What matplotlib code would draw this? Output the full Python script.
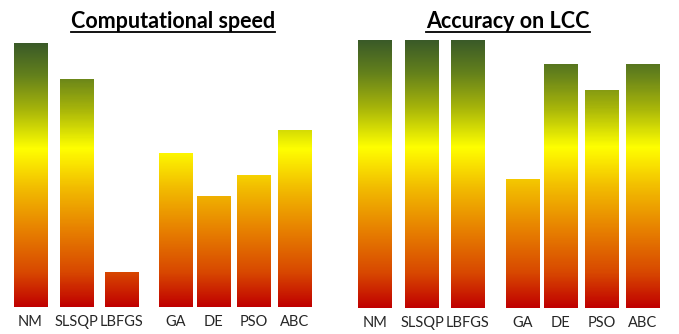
import matplotlib
matplotlib.use("Agg")
import matplotlib.pyplot as plt
import numpy as np
from matplotlib.colors import LinearSegmentedColormap
from matplotlib.lines import Line2D

methods = ["NM", "SLSQP", "LBFGS", "GA", "DE", "PSO", "ABC"]
speed = [100, 86, 13, 58, 42, 50, 67]
accuracy = [100, 100, 100, 48, 91, 81, 91]
titles = ["Computational speed", "Accuracy on LCC"]

# red -> orange -> yellow -> dark green, bottom to top
heat = LinearSegmentedColormap.from_list("heat", [
    (0.00, "#c00000"),
    (0.13, "#d84800"),
    (0.30, "#e88400"),
    (0.45, "#f2bc00"),
    (0.60, "#ffff00"),
    (0.75, "#a6b40a"),
    (0.88, "#63801c"),
    (1.00, "#3a5a28"),
])

W, H = 679, 334
fig = plt.figure(figsize=(W / 100, H / 100), dpi=100)
fig.patch.set_facecolor("white")

# gap left between the gradient methods and the population methods
pos = np.array([0, 1.02, 2.0, 3.2, 4.02, 4.9, 5.8])
bar_w = 0.73

# pixel layout of each panel: first-bar centre, px per slot, baseline, px for value 100
panels = [
    dict(vals=speed, x0=30.5, unit=45.5, base=307, full=264, title_x=173),
    dict(vals=accuracy, x0=375, unit=46.2, base=308, full=268, title_x=508),
]

for p, title in zip(panels, titles):
    left = p["x0"] - 0.5 * p["unit"]
    width = 6.8 * p["unit"]
    ax = fig.add_axes([left / W, (H - p["base"]) / H, width / W, p["full"] / H])
    ax.set_xlim(-0.5, 6.3)
    ax.set_ylim(0, 100)
    for x, v in zip(pos, p["vals"]):
        grad = heat(np.linspace(0, v / 100, 256))[::-1, None, :]
        ax.imshow(grad, extent=(x - bar_w / 2, x + bar_w / 2, 0, v),
                  aspect="auto", interpolation="bilinear", zorder=2)
    ax.set_xticks(pos, methods)
    ax.set_yticks([])
    ax.tick_params(axis="x", length=0, pad=5.5, labelsize=10.5, labelcolor="#262626")
    for lab in ax.get_xticklabels():
        lab.set_fontfamily("Lato")
    for s in ax.spines.values():
        s.set_visible(False)
    ax.patch.set_alpha(0)

    t = fig.text(p["title_x"] / W, 1 - 21 / H, title, ha="center", va="center",
                 fontsize=15.5, fontweight="bold", family="Lato", color="black")
    p["text"] = t

# underline the titles
fig.canvas.draw()
r = fig.canvas.get_renderer()
for p in panels:
    bb = p["text"].get_window_extent(r)
    y = 1 - 32 / H
    fig.add_artist(Line2D([bb.x0 / W, bb.x1 / W], [y, y], color="black", lw=1.3,
                          transform=fig.transFigure))

fig.savefig("out.png", dpi=100, facecolor="white")
